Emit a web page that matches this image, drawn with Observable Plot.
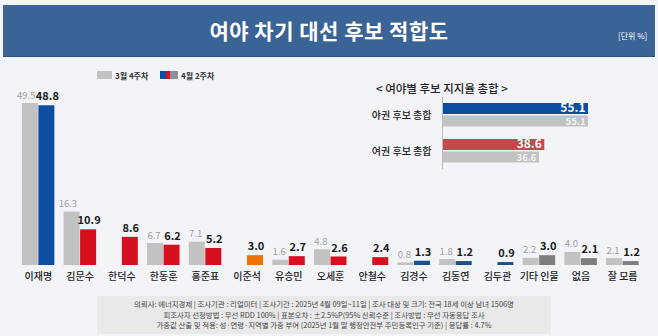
<!DOCTYPE html>
<html><head><meta charset="utf-8">
<script src="https://cdn.jsdelivr.net/npm/d3@7"></script>
<script src="https://cdn.jsdelivr.net/npm/@observablehq/plot@0.6"></script>
<style>
  html,body{margin:0;padding:0;}
  body{width:658px;height:336px;overflow:hidden;background:#f2f4f8;font-family:"Noto Sans CJK KR","Noto Sans",sans-serif;position:relative;}
  .abs{position:absolute;}
  #banner{left:3px;top:5px;width:652px;height:51px;background:#3a6396;border-bottom:1px solid #2c4f7c;}
  #title{left:0;top:5px;width:658px;height:51px;line-height:51px;text-align:center;color:#fff;font-size:21px;font-weight:700;letter-spacing:0.5px;}
  #unit{left:618px;top:30px;color:#fff;font-size:8px;}
  .legtxt{font-size:8px;font-weight:700;color:#333;top:70px;}
  #insetTitle{left:376px;top:80px;font-size:11.5px;font-weight:500;color:#222;}
  #footer{left:97px;top:296px;width:454px;height:38px;background:#e9e9ea;}
  #footer div{font-size:7.4px;color:#444;text-align:center;line-height:10.5px;white-space:nowrap;}
</style></head>
<body>
<div id="banner" class="abs"></div>
<div id="title" class="abs">여야 차기 대선 후보 적합도</div>
<div id="unit" class="abs">[단위 %]</div>

<div class="abs" style="left:97px;top:71px;width:15px;height:8px;background:#c2c2c2"></div>
<div class="abs legtxt" style="left:115px">3월 4주차</div>
<div class="abs" style="left:160px;top:71px;width:18px;height:8px;background:linear-gradient(90deg,#0b4ea2 0%,#0b4ea2 33%,#d7101f 33%,#d7101f 55%,#8a8f98 55%,#8a8f98 100%)"></div>
<div class="abs legtxt" style="left:181px">4월 2주차</div>

<div id="main" class="abs" style="left:0;top:60px"></div>
<div id="insetTitle" class="abs">&lt; 여야별 후보 지지율 총합 &gt;</div>
<div id="inset" class="abs" style="left:360px;top:95px"></div>

<div id="footer" class="abs" style="padding-top:3px;box-sizing:border-box">
  <div>의뢰사: 에너지경제 | 조사기관 : 리얼미터 | 조사기간 : 2025년 4월 09일~11일 | 조사 대상 및 크기: 전국 18세 이상 남녀 1506명</div>
  <div>피조사자 선정방법 : 무선 RDD 100% | 표본오차 : ±2.5%P(95% 신뢰수준 | 조사방법 : 무선 자동응답 조사</div>
  <div>가중값 산출 및 적용: 성·연령·지역별 가중 부여 (2025년 1월 말 행정안전부 주민등록인구 기준) | 응답률 : 4.7%</div>
</div>

<script>
// ---- data ----
const candidates = ["이재명","김문수","한덕수","한동훈","홍준표","이준석","유승민","오세훈","안철수","김경수","김동연","김두관","기타 인물","없음","잘 모름"];
const march4 = [49.5, 16.3, null, 6.7, 7.1, null, 1.6, 4.8, null, 0.8, 1.8, null, 2.2, 4.0, 2.1];
const april2 = [48.8, 10.9, 8.6, 6.2, 5.2, 3.0, 2.7, 2.6, 2.4, 1.3, 1.2, 0.9, 3.0, 2.1, 1.2];
const camp   = ["opp","rul","rul","rul","rul","ind","rul","rul","rul","opp2","opp2","opp2","etc","etc","etc"];

const groups = ["야권 후보 총합","여권 후보 총합"];
const groupPrev = [55.1, 36.6];
const groupCurr = [55.1, 38.6];
const groupCamp = ["opp","rul"];

const campColor = {opp:"#0b4ea2", opp2:"#1d4f8e", rul:"#d7101f", ind:"#ee7203", etc:"#7e7e7e"};
const insetColor = {opp:"#0b4ea2", rul:"#c8474d"};

// ---- main chart ----
const rows = candidates.map((c,i)=>({cat:c, prev:march4[i], curr:april2[i], camp:camp[i]}));
const rowsPrev = rows.filter(d=>d.prev!=null);
const x0 = 17, x1 = 643;
const bw = (x1-x0)/candidates.length;
const half = bw/2, barW = 16;

const main = Plot.plot({
  width:658, height:228,
  marginLeft:0, marginRight:0, marginTop:43, marginBottom:23,
  style:{background:"transparent", fontFamily:'"Noto Sans CJK KR","Noto Sans",sans-serif'},
  x:{domain:candidates, range:[x0,x1], padding:0, round:false, tickSize:0, tickPadding:7, label:null, fontSize:11},
  y:{domain:[0,49.5], axis:null},
  marks:[
    Plot.barY(rowsPrev,{x:"cat", y:"prev", fill:"#c2c2c2", insetLeft:half-barW, insetRight:half}),
    Plot.barY(rows,{x:"cat", y:"curr", fill:d=>campColor[d.camp], insetLeft:half+0.5, insetRight:half-barW-0.5}),
    Plot.text(rowsPrev,{x:"cat", y:"prev", text:d=>d.prev.toFixed(1), dx:-3, dy:-8, textAnchor:"end", fill:"#a0a0a0", fontSize:9.5}),
    Plot.text(rows,{x:"cat", y:"curr", text:d=>d.curr.toFixed(1), dx:9, dy:-9, fill:"#1a1a1a", fontSize:11, fontWeight:"bold"})
  ]
});
main.querySelectorAll('[aria-label="x-axis tick label"] text').forEach(t=>{t.setAttribute("fill","#222");t.setAttribute("font-weight","500");});
document.getElementById("main").appendChild(main);

// ---- inset chart ----
const grows = groups.map((g,i)=>({g, prev:groupPrev[i], curr:groupCurr[i], camp:groupCamp[i]}));
const inset = Plot.plot({
  width:245, height:76,
  marginLeft:82, marginRight:17, marginTop:2, marginBottom:2,
  style:{background:"transparent", fontFamily:'"Noto Sans CJK KR","Noto Sans",sans-serif'},
  x:{domain:[0,55.1], axis:null},
  y:{domain:groups, padding:0, round:false, tickSize:0, tickPadding:11, label:null, fontSize:11},
  marks:[
    Plot.barX(grows,{y:"g", x:"curr", fill:d=>insetColor[d.camp], insetTop:6, insetBottom:19}),
    Plot.barX(grows,{y:"g", x:"prev", fill:"#c2c2c2", insetTop:18.5, insetBottom:6.5}),
    Plot.ruleX([0],{stroke:"#bbbbbb", strokeWidth:1}),
    Plot.text(grows,{y:"g", x:"curr", text:d=>d.curr.toFixed(1), dy:-7, dx:-3, textAnchor:"end", fill:"#fff", fontSize:12, fontWeight:"bold"}),
    Plot.text(grows,{y:"g", x:"prev", text:d=>d.prev.toFixed(1), dy:6.5, dx:-3, textAnchor:"end", fill:"#f4f4f4", fontSize:9.5, fontWeight:"bold"})
  ]
});
inset.querySelectorAll('[aria-label="y-axis tick label"] text').forEach(t=>{t.setAttribute("fill","#222");t.setAttribute("font-weight","500");});
document.getElementById("inset").appendChild(inset);
</script>
</body></html>
